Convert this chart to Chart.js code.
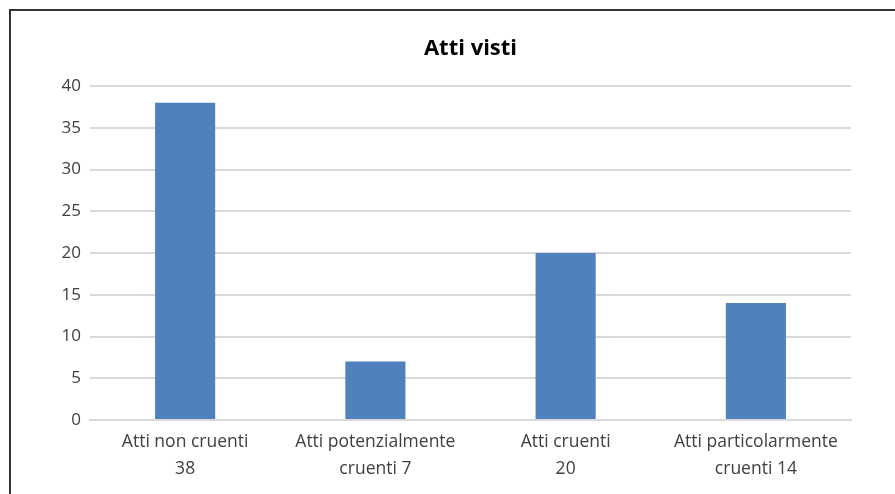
<!DOCTYPE html>
<html>
<head>
<meta charset="utf-8">
<script src="https://cdn.jsdelivr.net/npm/chart.js@4/dist/chart.umd.min.js"></script>
<style>
  body { margin: 0; background: #fff; }
  #wrap { position: relative; width: 895px; height: 494px; overflow: hidden; }
  #frame { position: absolute; left: 9px; top: 9px; width: 1000px; height: 600px; border: 2px solid #333; box-sizing: border-box; }
  canvas { position: absolute; left: 0; top: 0; }
</style>
</head>
<body>
<div id="wrap">
  <div id="frame"></div>
  <canvas id="chart" width="895" height="494"></canvas>
</div>
<script>
const categories = [
  ['Atti non cruenti', '38'],
  ['Atti potenzialmente', 'cruenti 7'],
  ['Atti cruenti', '20'],
  ['Atti particolarmente', 'cruenti 14']
];
const values = [38, 7, 20, 14];
const yTicks = [0, 5, 10, 15, 20, 25, 30, 35, 40];

new Chart(document.getElementById('chart').getContext('2d'), {
  type: 'bar',
  data: {
    labels: categories,
    datasets: [{
      label: 'Atti visti',
      data: values,
      backgroundColor: '#4f81bd',
      borderWidth: 0,
      categoryPercentage: 1,
      barPercentage: 0.316
    }]
  },
  options: {
    responsive: false,
    animation: false,
    layout: { padding: { left: 0, right: 44, top: 0, bottom: 0 } },
    plugins: {
      legend: { display: false },
      tooltip: { enabled: false },
      title: {
        display: true,
        fullSize: false,
        text: 'Atti visti',
        color: '#000',
        font: { family: 'Open Sans', size: 22, weight: 'bold', lineHeight: 1.2 },
        padding: { top: 36, bottom: 23.6 }
      }
    },
    scales: {
      x: {
        grid: { display: false },
        border: { color: '#d9d9d9', width: 2 },
        ticks: {
          color: '#404040',
          padding: 0,
          maxRotation: 0,
          autoSkip: false,
          font: { family: 'Open Sans', size: 17.5, lineHeight: 1.55 }
        },
        afterFit: s => { s.height = 74; }
      },
      y: {
        min: 0,
        max: 40,
        afterBuildTicks: s => { s.ticks = yTicks.map(v => ({ value: v })); },
        grid: { color: '#d9d9d9', lineWidth: 2, drawTicks: false },
        border: { display: false },
        ticks: {
          color: '#404040',
          padding: 9,
          font: { family: 'Open Sans', size: 17 }
        },
        afterFit: s => { s.width = 90; }
      }
    }
  }
});
</script>
</body>
</html>
